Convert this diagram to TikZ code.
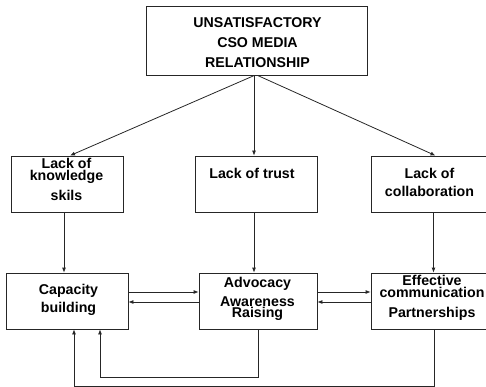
\documentclass[tikz,border=0pt]{standalone}
\usepackage{fontspec}
\setmainfont{Liberation Sans}
\usetikzlibrary{arrows.meta,calc}
\begin{document}
\begin{tikzpicture}[x=1pt,y=-1pt,
  box/.style={draw=black!85,line width=0.8pt,inner sep=0pt,anchor=center},
  txt/.style={align=center,inner sep=0pt,anchor=north,font=\fontsize{14.2}{#1}\selectfont\bfseries},
  txt/.default=20,
  arr/.style={draw=black!85,line width=0.8pt,-{Latex[length=5pt,width=4pt]}}]
\useasboundingbox (0,0) rectangle (486,387);
% boxes
\node[box,minimum width=221pt,minimum height=69pt] (top) at (256.5,40.5) {};
\node[box,minimum width=112pt,minimum height=56pt] (lack1) at (67,184) {};
\node[box,minimum width=122pt,minimum height=56pt] (lack2) at (256,184) {};
\node[box,minimum width=117pt,minimum height=56pt] (lack3) at (429.5,184) {};
\node[box,minimum width=122pt,minimum height=56pt] (cap) at (67,301) {};
\node[box,minimum width=118pt,minimum height=56pt] (adv) at (258,301) {};
\node[box,minimum width=117pt,minimum height=56pt] (eff) at (429.5,301) {};
% texts
\node[txt] (topt) at (257.5,17.8) {UNSATISFACTORY\\CSO MEDIA\\RELATIONSHIP};
\node[txt] (lack1t) at (66.5,157.6) {Lack of\\[-8pt]knowledge\\skils};
\node[txt] (lack2t) at (252,167.6) {Lack of trust};
\node[txt=18] (lack3t) at (429.5,167.6) {Lack of\\collaboration};
\node[txt=18] (capt) at (68.5,284.5) {Capacity\\building};
\node[txt=19] (advt) at (257.5,276.7) {Advocacy\\Awareness\\[-8pt]Raising};
\node[txt=20] (efft) at (432,274.7) {Effective\\[-8pt]communication\\Partnerships};
% arrows from top
\draw[arr] ([xshift=-2pt]top.south) -- ([xshift=3pt]lack1.north);
\draw[arr] ([xshift=-2.5pt]top.south) -- ([xshift=-2pt]lack2.north);
\draw[arr] ([xshift=1pt]top.south) -- ([xshift=6pt]lack3.north);
% down arrows
\draw[arr] ([xshift=-3pt]lack1.south) -- ([xshift=-3pt]cap.north);
\draw[arr] ([xshift=-2pt]lack2.south) -- ([xshift=-2pt]lack2.south |- adv.north);
\draw[arr] ([xshift=4pt]lack3.south) -- ([xshift=4pt]lack3.south |- eff.north);
% horizontal pairs
\draw[arr] ([yshift=9pt]cap.east) -- ([yshift=9pt]cap.east -| adv.west);
\draw[arr] ([yshift=-1pt]adv.west) -- ([yshift=-1pt]adv.west -| cap.east);
\draw[arr] ([yshift=9pt]adv.east) -- ([yshift=9pt]adv.east -| eff.west);
\draw[arr] ([yshift=-1pt]eff.west) -- ([yshift=-1pt]eff.west -| adv.east);
% feedback loops
\draw[arr] (adv.south) -- ++(0,48) -| ([xshift=33pt]cap.south);
\draw[arr] ([xshift=4.5pt]eff.south) -- ++(0,56.5) -| ([xshift=7pt]cap.south);
\end{tikzpicture}
\end{document}
